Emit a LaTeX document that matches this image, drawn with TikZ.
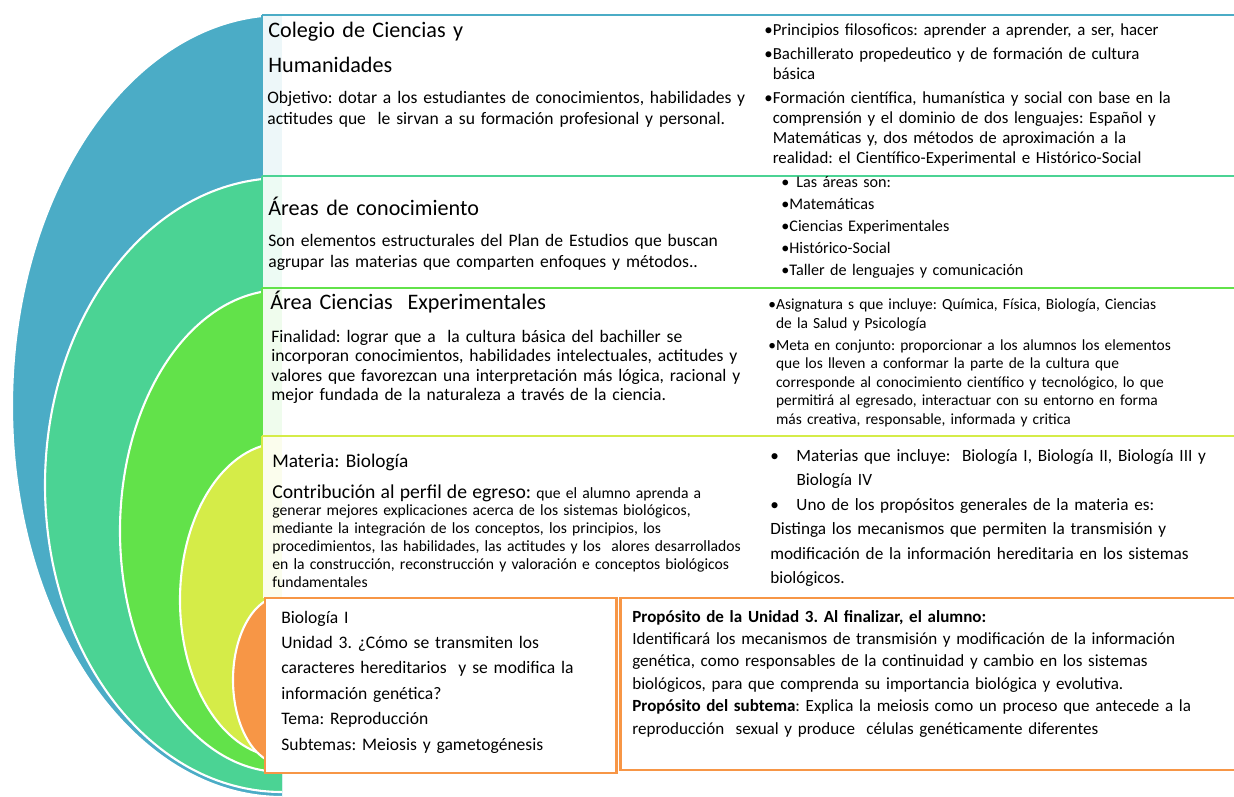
\documentclass[tikz,border=0pt]{standalone}
\usepackage{fontspec}
\setmainfont{Carlito}
\frenchspacing
\definecolor{nivelA}{HTML}{4BACC6}
\definecolor{nivelB}{HTML}{4BD394}
\definecolor{nivelC}{HTML}{62E24A}
\definecolor{nivelD}{HTML}{D5EC48}
\definecolor{nivelE}{HTML}{F79646}
\newcommand{\bul}{\textbullet}
\newcommand{\sang}{\phantom{\textbullet}}

\begin{document}
\begin{tikzpicture}[x=0.02cm,y=-0.02cm,
    txt/.style={anchor=base west,inner sep=0pt,align=left,text width=#1},
    titulo/.style={font=\fontsize{12.6}{19.8}\selectfont},
    cuerpo/.style={font=\fontsize{10}{11.9}\selectfont},
    chico/.style={font=\fontsize{8.8}{10.5}\selectfont}]
\useasboundingbox (0,0) rectangle (1234,797);

% medias elipses anidadas
\foreach \col/\top/\rx/\ry in {nivelA/15/270/391, nivelB/178/237/307, nivelC/290/162/241, nivelD/443/102/157, nivelE/596/49/84}
    \filldraw[fill=\col,draw=white,line width=1.2pt] (282,\top) arc[start angle=90,end angle=270,x radius=\rx*0.02cm,y radius=\ry*0.02cm];

% cajas de cada nivel
\foreach \col/\ya/\yb in {nivelA/15/176, nivelB/176/288, nivelC/288/436, nivelD/436/598}{
    \fill[white] (262,\ya) rectangle (1234,\yb);
    \fill[\col!10] (262,\ya) rectangle (282,\yb);
    \draw[\col,line width=1pt] (262,\yb) -- (262,\ya);
    \draw[\col,line width=1.7pt] (262,\ya) -- (1234,\ya);
}
\draw[nivelE,line width=1.7pt,fill=white] (265,598) rectangle (616,773);
\draw[nivelE,line width=1.7pt] (1234,598) -- (620,598) -- (620,770) -- (1234,770);

% textos
\node[txt=9cm,titulo] (colegio) at (268,38) {Colegio de Ciencias y\\Humanidades};
\node[txt=10cm,cuerpo] (objetivo) at (267,104) {Objetivo: dotar a los estudiantes de conocimientos, habilidades y\\actitudes que \ le sirvan a su formación profesional y personal.};
\node[txt=9.5cm,cuerpo,font=\fontsize{9.6}{11.3}\selectfont] (principios) at (764,36) {\bul Principios filosoficos: aprender a aprender, a ser, hacer\\[2.3pt]
\bul Bachillerato propedeutico y de formación de cultura\\\sang básica\\[2.3pt]
\bul Formación científica, humanística y social con base en la\\\sang comprensión y el dominio de dos lenguajes: Español y\\\sang Matemáticas y, dos métodos de aproximación a la\\\sang realidad: el Científico-Experimental e Histórico-Social};

\node[txt=9cm,titulo] (areas) at (268,216) {Áreas de conocimiento};
\node[txt=10cm,cuerpo] (estructura) at (268,247) {Son elementos estructurales del Plan de Estudios que buscan\\agrupar las materias que comparten enfoques y métodos..};
\node[txt=9cm,chico,font=\fontsize{9.2}{12.5}\selectfont] (listaareas) at (781,188) {\bul\hspace{4pt}Las áreas son:\\\bul Matemáticas\\\bul Ciencias Experimentales\\\bul Histórico-Social\\\bul Taller de lenguajes y comunicación};

\node[txt=9cm,titulo] (cienexp) at (270,310) {Área Ciencias \ Experimentales};
\node[txt=10cm,cuerpo,font=\fontsize{10}{11.1}\selectfont] (finalidad) at (271,342) {Finalidad: lograr que a \ la cultura básica del bachiller se\\incorporan conocimientos, habilidades intelectuales, actitudes y\\valores que favorezcan una interpretación más lógica, racional y\\mejor fundada de la naturaleza a través de la ciencia.};
\node[txt=9.5cm,chico] (asignaturas) at (768,310) {\bul Asignatura s que incluye: Química, Física, Biología, Ciencias\\\sang de la Salud y Psicología\\[2pt]
\bul Meta en conjunto: proporcionar a los alumnos los elementos\\\sang que los lleven a conformar la parte de la cultura que\\\sang corresponde al conocimiento científico y tecnológico, lo que\\\sang permitirá al egresado, interactuar con su entorno en forma\\\sang más creativa, responsable, informada y critica};

\node[txt=9cm,font=\fontsize{11}{13}\selectfont] (materia) at (272,467) {Materia: Biología};
\node[txt=10cm,chico,font=\fontsize{8.9}{10.2}\selectfont] (contribucion) at (272,498) {{\fontsize{11.2}{13}\selectfont Contribución al perfil de egreso:} que el alumno aprenda a\\generar mejores explicaciones acerca de los sistemas biológicos,\\mediante la integración de los conceptos, los principios, los\\procedimientos, las habilidades, las actitudes y los \ alores desarrollados\\en la construcción, reconstrucción y valoración e conceptos biológicos\\fundamentales};
\node[txt=9.5cm,cuerpo,font=\fontsize{9.8}{14}\selectfont] (biologias) at (770,461) {\bul\hspace{10pt}Materias que incluye: \ Biología I, Biología II, Biología III y\\\sang\hspace{10pt}Biología IV\\\bul\hspace{10pt}Uno de los propósitos generales de la materia es:\\Distinga los mecanismos que permiten la transmisión y\\modificación de la información hereditaria en los sistemas\\biológicos.};

\node[txt=6.5cm,font=\fontsize{10}{14.5}\selectfont] (unidad) at (281,623) {Biología I\\Unidad 3. ¿Cómo se transmiten los\\caracteres hereditarios \ y se modifica la\\información genética?\\Tema: Reproducción\\Subtemas: Meiosis y gametogénesis};
\node[txt=11.5cm,font=\fontsize{9.7}{12.8}\selectfont] (proposito) at (632,622) {\textbf{Propósito de la Unidad 3. Al finalizar, el alumno:}\\Identificará los mecanismos de transmisión y modificación de la información\\genética, como responsables de la continuidad y cambio en los sistemas\\biológicos, para que comprenda su importancia biológica y evolutiva.\\\textbf{Propósito del subtema}: Explica la meiosis como un proceso que antecede a la\\reproducción \ sexual y produce \ células genéticamente diferentes};
\end{tikzpicture}
\end{document}
